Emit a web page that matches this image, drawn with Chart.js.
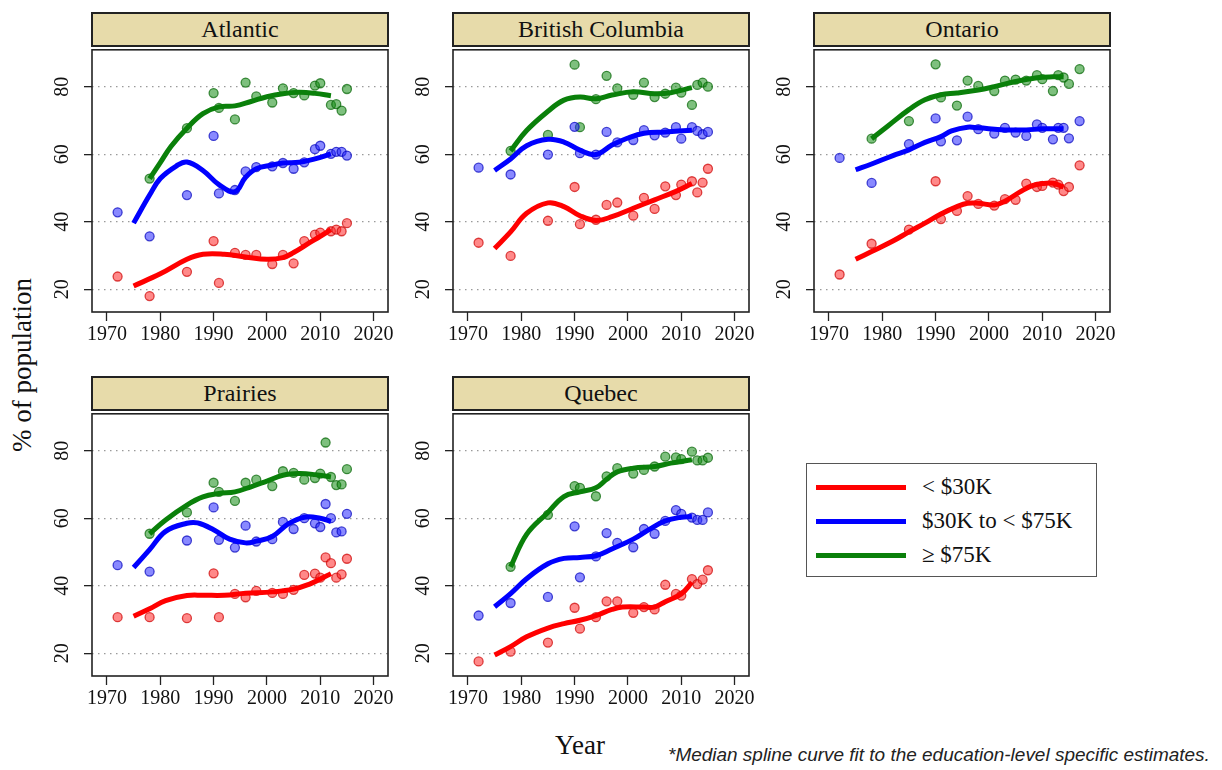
<!DOCTYPE html>
<html>
<head>
<meta charset="utf-8">
<title>Share of population by income group, Canadian regions</title>
<script src="https://cdn.jsdelivr.net/npm/chart.js@4.4.1/dist/chart.umd.min.js"></script>
<style>
  html, body { margin: 0; padding: 0; background: #fff; }
  body {
    width: 1222px; height: 770px; position: relative; overflow: hidden;
    font-family: "Liberation Serif", "Times New Roman", serif; color: #111;
  }
  canvas { position: absolute; }
  .strip {
    position: absolute; box-sizing: border-box;
    background: #e7dbaa; border: 2px solid #222;
    text-align: center; font-size: 24px; line-height: 31px;
  }
  .ytitle {
    position: absolute; left: 22px; top: 365px; font-size: 27px; white-space: nowrap;
    transform: translate(-50%, -50%) rotate(-90deg);
  }
  .xtitle { position: absolute; left: 580px; top: 745px; font-size: 27px; transform: translate(-50%, -50%); }
  .legend {
    position: absolute; left: 806px; top: 463px; width: 291px; height: 114px;
    box-sizing: border-box; border: 1.5px solid #555; background: #fff;
  }
  .legend .row { position: absolute; left: 0; height: 30px; width: 100%; }
  .legend .swatch { position: absolute; left: 9px; width: 90px; height: 5px; top: 12.5px; }
  .legend .label { position: absolute; left: 115px; top: 0; font-size: 23px; line-height: 30px; white-space: nowrap; }
  .note {
    position: absolute; left: 668px; top: 744px; white-space: nowrap;
    font-family: "Liberation Sans Narrow", "Liberation Sans", Arial, sans-serif;
    font-style: italic; font-size: 19px; color: #222; transform-origin: 0 50%;
  }
</style>
</head>
<body>
<div class="ytitle">% of population</div>
<div class="xtitle">Year</div>
<div class="legend" id="legend"></div>
<div class="note" id="note">*Median spline curve fit to the education-level specific estimates.</div>

<script>
// ---- axis ticks ----
const xTickValues = [1970, 1980, 1990, 2000, 2010, 2020];
const yTickValues = [20, 40, 60, 80];

// ---- income groups ----
const groupLabels = ['< $30K', '$30K to < $75K', '\u2265 $75K'];
const groupLineColors = ['#ff0000', '#0000ff', '#0a800a'];
const groupPointFill = ['rgba(255,40,40,0.55)', 'rgba(40,40,255,0.55)', 'rgba(20,140,20,0.55)'];
const groupPointEdge = ['rgba(205,0,0,0.7)', 'rgba(0,0,190,0.7)', 'rgba(0,100,0,0.7)'];

// ---- Atlantic ----
const atlanticYears = [1972, 1978, 1985, 1990, 1991, 1994, 1996, 1998, 2001, 2003, 2005, 2007, 2009, 2010, 2012, 2013, 2014, 2015];
const atlanticLow  = [23.8, 18.0, 25.2, 34.3, 21.9, 30.8, 30.2, 30.2, 27.5, 30.2, 27.7, 34.3, 36.2, 36.8, 37.2, 37.7, 37.2, 39.6];
const atlanticMid  = [42.8, 35.7, 47.9, 65.4, 48.4, 49.4, 54.9, 56.2, 56.4, 57.4, 55.7, 57.6, 61.5, 62.5, 60.1, 60.7, 60.7, 59.6];
const atlanticHigh = [null, 52.8, 67.7, 78.1, 73.7, 70.3, 81.2, 77.1, 75.3, 79.5, 78.1, 77.4, 80.3, 81.0, 74.6, 74.8, 72.9, 79.3];
const atlanticFitLowYears  = [1975, 1980, 1985, 1988, 1992, 1996, 2000, 2003, 2005, 2008, 2010, 2012];
const atlanticFitLow       = [21.0, 24.6, 28.9, 30.4, 30.4, 29.6, 28.9, 29.4, 30.9, 33.8, 35.7, 37.7];
const atlanticFitMidYears  = [1975, 1978, 1980, 1983, 1985, 1988, 1991, 1994, 1996, 1998, 2001, 2003, 2006, 2009, 2012];
const atlanticFitMid       = [39.6, 47.9, 52.8, 56.5, 57.7, 55.2, 51.0, 48.9, 53.2, 55.7, 56.8, 57.4, 57.6, 58.6, 60.1];
const atlanticFitHighYears = [1978, 1980, 1982, 1985, 1988, 1991, 1994, 1997, 2000, 2003, 2006, 2009, 2012];
const atlanticFitHigh      = [52.8, 57.5, 62.3, 67.7, 72.0, 74.0, 74.3, 75.6, 77.0, 77.9, 78.3, 78.0, 77.3];

// ---- British Columbia ----
const bcYears = [1972, 1978, 1985, 1990, 1991, 1994, 1996, 1998, 2001, 2003, 2005, 2007, 2009, 2010, 2012, 2013, 2014, 2015];
const bcLow  = [33.8, 29.9, 40.3, 50.3, 39.3, 40.6, 45.0, 45.7, 41.8, 47.1, 43.8, 50.5, 47.9, 51.0, 52.0, 48.7, 51.6, 55.7];
const bcMid  = [56.0, 54.0, 59.9, 68.1, 60.3, 59.9, 66.6, 63.5, 64.2, 67.1, 65.6, 66.4, 68.0, 64.6, 68.0, 66.9, 65.9, 66.6];
const bcHigh = [null, 61.0, 65.7, 86.5, 68.0, 76.3, 83.2, 79.5, 77.6, 81.2, 76.9, 77.9, 79.7, 78.2, 74.6, 80.5, 81.2, 80.0];
const bcFitLowYears  = [1975, 1978, 1981, 1985, 1988, 1991, 1994, 1997, 2001, 2005, 2009, 2012];
const bcFitLow       = [32.1, 37.0, 42.5, 45.6, 44.5, 41.8, 40.4, 41.5, 44.0, 46.5, 49.0, 51.3];
const bcFitMidYears  = [1975, 1978, 1981, 1985, 1988, 1991, 1994, 1997, 2000, 2003, 2007, 2012];
const bcFitMid       = [55.2, 58.6, 62.5, 64.4, 63.6, 61.2, 59.9, 62.7, 64.8, 66.2, 66.6, 67.1];
const bcFitHighYears = [1978, 1981, 1985, 1988, 1991, 1994, 1997, 2001, 2005, 2008, 2012];
const bcFitHigh      = [61.0, 67.0, 72.7, 76.0, 76.9, 76.4, 77.5, 78.5, 77.9, 78.2, 79.7];

// ---- Ontario ----
const onYears = [1972, 1978, 1985, 1990, 1991, 1994, 1996, 1998, 2001, 2003, 2005, 2007, 2009, 2010, 2012, 2013, 2014, 2015, 2017];
const onLow  = [24.4, 33.5, 37.7, 52.0, 40.8, 43.2, 47.6, 45.3, 44.8, 46.7, 46.5, 51.3, 50.3, 50.6, 51.6, 51.0, 49.1, 50.3, 56.7];
const onMid  = [58.9, 51.5, 63.0, 70.6, 63.8, 64.1, 71.1, 67.4, 66.1, 67.8, 66.4, 65.4, 68.8, 67.8, 64.4, 67.8, 67.8, 64.7, 69.8];
const onHigh = [null, 64.6, 69.8, 86.6, 76.8, 74.4, 81.8, 80.2, 78.7, 81.8, 82.1, 81.8, 83.4, 82.2, 78.7, 83.4, 82.7, 80.8, 85.2];
const onFitLowYears  = [1975, 1978, 1982, 1985, 1988, 1991, 1994, 1996, 1998, 2001, 2003, 2006, 2008, 2010, 2012, 2014];
const onFitLow       = [28.9, 31.2, 34.3, 37.0, 39.6, 42.3, 44.5, 45.5, 45.5, 45.0, 46.1, 49.0, 50.6, 51.3, 51.4, 50.3];
const onFitMidYears  = [1975, 1978, 1982, 1985, 1988, 1991, 1993, 1996, 1998, 2003, 2007, 2010, 2014];
const onFitMid       = [55.4, 57.1, 59.6, 61.3, 63.5, 65.2, 66.9, 68.0, 67.8, 67.2, 67.2, 67.5, 67.5];
const onFitHighYears = [1978, 1981, 1985, 1988, 1991, 1994, 1998, 2001, 2005, 2009, 2012, 2014];
const onFitHigh      = [64.6, 68.3, 73.2, 76.1, 77.6, 78.1, 79.0, 80.0, 81.5, 82.6, 82.9, 82.9];

// ---- Prairies ----
const prYears = [1972, 1978, 1985, 1990, 1991, 1994, 1996, 1998, 2001, 2003, 2005, 2007, 2009, 2010, 2011, 2012, 2013, 2014, 2015];
const prLow  = [30.7, 30.7, 30.4, 43.7, 30.7, 37.6, 36.6, 38.5, 37.9, 37.6, 38.8, 43.2, 43.6, 42.4, 48.4, 46.7, 42.4, 43.4, 48.0];
const prMid  = [46.1, 44.2, 53.4, 63.2, 53.6, 51.3, 57.8, 53.1, 53.8, 58.9, 56.8, 60.0, 58.5, 57.4, 64.2, 60.0, 55.8, 56.1, 61.3];
const prHigh = [null, 55.4, 61.7, 70.5, 67.8, 65.1, 70.5, 71.4, 69.5, 73.9, 73.4, 71.4, 71.9, 73.2, 82.4, 72.2, 69.8, 70.0, 74.5];
const prFitLowYears  = [1975, 1978, 1981, 1985, 1988, 1992, 1996, 2001, 2005, 2008, 2010, 2012];
const prFitLow       = [31.0, 33.2, 35.6, 37.1, 37.2, 37.2, 37.8, 38.2, 39.0, 40.5, 42.0, 43.6];
const prFitMidYears  = [1975, 1978, 1981, 1985, 1987, 1990, 1993, 1996, 1998, 2001, 2004, 2007, 2010, 2012];
const prFitMid       = [45.4, 50.7, 56.1, 58.5, 58.6, 56.6, 53.8, 52.7, 53.2, 54.6, 58.3, 60.3, 60.0, 59.0];
const prFitHighYears = [1978, 1981, 1985, 1988, 1991, 1994, 1997, 2000, 2003, 2006, 2009, 2012];
const prFitHigh      = [55.4, 59.5, 63.9, 66.3, 67.3, 67.8, 69.3, 71.0, 72.7, 73.2, 72.9, 72.2];

// ---- Quebec ----
const qcYears = [1972, 1978, 1985, 1990, 1991, 1994, 1996, 1998, 2001, 2003, 2005, 2007, 2009, 2010, 2012, 2013, 2014, 2015];
const qcLow  = [17.6, 20.5, 23.2, 33.5, 27.3, 30.7, 35.4, 35.4, 32.0, 33.7, 33.0, 40.3, 37.6, 37.1, 42.0, 40.5, 41.8, 44.6];
const qcMid  = [31.2, 34.9, 36.7, 57.6, 42.5, 48.7, 55.6, 52.7, 51.4, 56.8, 55.4, 59.2, 62.4, 61.3, 60.2, 59.5, 59.5, 61.7];
const qcHigh = [null, 45.6, 61.0, 69.5, 69.0, 66.5, 72.4, 74.8, 73.2, 74.3, 75.3, 78.2, 78.0, 77.5, 79.7, 77.1, 77.1, 77.9];
const qcFitLowYears  = [1975, 1978, 1981, 1985, 1988, 1991, 1994, 1997, 1999, 2003, 2005, 2007, 2010, 2012];
const qcFitLow       = [19.5, 22.0, 24.9, 27.5, 28.8, 29.8, 31.2, 33.0, 33.7, 33.7, 33.7, 35.3, 37.6, 41.0];
const qcFitMidYears  = [1975, 1978, 1981, 1985, 1988, 1991, 1994, 1997, 2001, 2004, 2007, 2010, 2012];
const qcFitMid       = [33.8, 37.7, 42.1, 46.5, 48.1, 48.4, 48.9, 50.9, 53.8, 56.7, 59.2, 60.3, 60.5];
const qcFitHighYears = [1978, 1981, 1985, 1988, 1991, 1994, 1996, 1998, 2001, 2005, 2008, 2012];
const qcFitHigh      = [45.6, 55.2, 61.7, 66.4, 67.8, 69.0, 71.5, 73.7, 74.8, 75.3, 76.3, 77.3];

// ---- panel grid ----
const panels = [
  { title: 'Atlantic', col: 0, row: 0, years: atlanticYears, est: [atlanticLow, atlanticMid, atlanticHigh],
    fitYears: [atlanticFitLowYears, atlanticFitMidYears, atlanticFitHighYears], fit: [atlanticFitLow, atlanticFitMid, atlanticFitHigh] },
  { title: 'British Columbia', col: 1, row: 0, years: bcYears, est: [bcLow, bcMid, bcHigh],
    fitYears: [bcFitLowYears, bcFitMidYears, bcFitHighYears], fit: [bcFitLow, bcFitMid, bcFitHigh] },
  { title: 'Ontario', col: 2, row: 0, years: onYears, est: [onLow, onMid, onHigh],
    fitYears: [onFitLowYears, onFitMidYears, onFitHighYears], fit: [onFitLow, onFitMid, onFitHigh] },
  { title: 'Prairies', col: 0, row: 1, years: prYears, est: [prLow, prMid, prHigh],
    fitYears: [prFitLowYears, prFitMidYears, prFitHighYears], fit: [prFitLow, prFitMid, prFitHigh] },
  { title: 'Quebec', col: 1, row: 1, years: qcYears, est: [qcLow, qcMid, qcHigh],
    fitYears: [qcFitLowYears, qcFitMidYears, qcFitHighYears], fit: [qcFitLow, qcFitMid, qcFitHigh] }
];

const X_MIN = 1967.2, X_MAX = 2022.7;
const Y_MIN = 13.3, Y_MAX = 90.9;

const PLOT_W = 296, PLOT_H = 266;
const COL_LEFT = [92, 453, 814];
const ROW_TOP = [46, 410];
const Y_AXIS_W = 72, X_AXIS_H = 45, PAD_TOP = 2, PAD_RIGHT = 12, STRIP_H = 35;
const SERIF = '"Liberation Serif", "Times New Roman", serif';

// full box around each plotting region
const frameBox = {
  id: 'frameBox',
  afterDraw(chart) {
    const a = chart.chartArea, ctx = chart.ctx;
    ctx.save();
    ctx.strokeStyle = '#222';
    ctx.lineWidth = 1.6;
    ctx.strokeRect(a.left, a.top, a.right - a.left, a.bottom - a.top);
    ctx.restore();
  }
};

function pairs(xs, ys) {
  const out = [];
  xs.forEach((x, i) => { if (ys[i] !== null && ys[i] !== undefined) out.push({ x: x, y: ys[i] }); });
  return out;
}

panels.forEach(p => {
  const plotLeft = COL_LEFT[p.col], plotTop = ROW_TOP[p.row];

  const strip = document.createElement('div');
  strip.className = 'strip';
  strip.textContent = p.title;
  strip.style.left = (plotLeft - 1) + 'px';
  strip.style.top = (plotTop - STRIP_H + 1) + 'px';
  strip.style.width = (PLOT_W + 2) + 'px';
  strip.style.height = STRIP_H + 'px';
  document.body.appendChild(strip);

  const cv = document.createElement('canvas');
  const w = Y_AXIS_W + PLOT_W + PAD_RIGHT, h = PAD_TOP + PLOT_H + X_AXIS_H;
  cv.width = w; cv.height = h;
  cv.style.width = w + 'px'; cv.style.height = h + 'px';
  cv.style.left = (plotLeft - Y_AXIS_W) + 'px';
  cv.style.top = (plotTop - PAD_TOP) + 'px';
  document.body.appendChild(cv);

  const datasets = [];
  // fitted curves, drawn on top
  for (let g = 0; g < 3; g++) {
    datasets.push({
      label: groupLabels[g] + ' fit',
      data: pairs(p.fitYears[g], p.fit[g]),
      showLine: true,
      pointRadius: 0,
      borderColor: groupLineColors[g],
      borderWidth: 5,
      tension: 0.4,
      fill: false,
      order: 1
    });
  }
  // survey estimates
  for (let g = 0; g < 3; g++) {
    datasets.push({
      label: groupLabels[g],
      data: pairs(p.years, p.est[g]),
      showLine: false,
      pointRadius: 4.5,
      pointBackgroundColor: groupPointFill[g],
      pointBorderColor: groupPointEdge[g],
      pointBorderWidth: 1.3,
      order: 2
    });
  }

  new Chart(cv, {
    type: 'scatter',
    data: { datasets: datasets },
    options: {
      responsive: false,
      animation: false,
      devicePixelRatio: 1,
      events: [],
      layout: { padding: { left: 0, top: PAD_TOP, right: PAD_RIGHT, bottom: 0 } },
      plugins: { legend: { display: false }, tooltip: { enabled: false } },
      scales: {
        x: {
          type: 'linear', min: X_MIN, max: X_MAX,
          afterBuildTicks: s => { s.ticks = xTickValues.map(v => ({ value: v })); },
          afterFit: s => { s.height = X_AXIS_H; s.paddingLeft = 0; s.paddingRight = 0; },
          grid: { drawOnChartArea: false, tickLength: 9, tickColor: '#222', tickWidth: 1.3 },
          border: { display: false },
          ticks: {
            autoSkip: false, maxRotation: 0, minRotation: 0, padding: 2,
            color: '#111', font: { family: SERIF, size: 20 },
            callback: v => String(v)
          }
        },
        y: {
          type: 'linear', min: Y_MIN, max: Y_MAX,
          afterBuildTicks: s => { s.ticks = yTickValues.map(v => ({ value: v })); },
          afterFit: s => { s.width = Y_AXIS_W; s.paddingTop = 0; s.paddingBottom = 0; },
          grid: { color: '#9a9a9a', lineWidth: 1.3, tickLength: 8, tickColor: '#222', tickWidth: 1.3 },
          border: { display: false, dash: [1.5, 4.5] },
          ticks: {
            minRotation: 90, maxRotation: 90, crossAlign: 'center', padding: 11,
            color: '#111', font: { family: SERIF, size: 20 },
            callback: v => String(v)
          }
        }
      }
    },
    plugins: [frameBox]
  });
});

// shared legend
const legend = document.getElementById('legend');
groupLabels.forEach((lab, g) => {
  const row = document.createElement('div');
  row.className = 'row';
  row.style.top = (8 + g * 34) + 'px';
  const sw = document.createElement('div');
  sw.className = 'swatch';
  sw.style.background = groupLineColors[g];
  const tx = document.createElement('div');
  tx.className = 'label';
  tx.textContent = lab;
  row.appendChild(sw); row.appendChild(tx);
  legend.appendChild(row);
});

// footnote width
const note = document.getElementById('note');
note.style.transform = 'scaleX(' + (542 / note.offsetWidth) + ')';
</script>
</body>
</html>
